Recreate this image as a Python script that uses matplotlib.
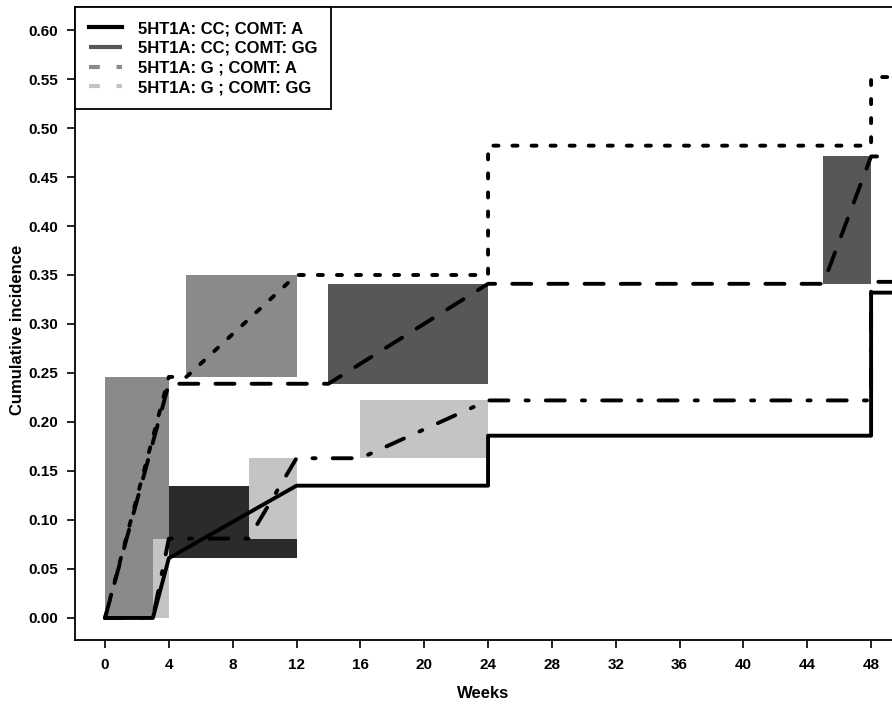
import matplotlib
matplotlib.use("Agg")
import matplotlib.pyplot as plt
from matplotlib.lines import Line2D

plt.rcParams['font.family'] = ['Liberation Sans', 'DejaVu Sans']
plt.rcParams['font.weight'] = 'bold'

# ---- data ----
weeks_ticks = [0, 4, 8, 12, 16, 20, 24, 28, 32, 36, 40, 44, 48]
y_ticks = [0.00, 0.05, 0.10, 0.15, 0.20, 0.25, 0.30, 0.35, 0.40, 0.45, 0.50, 0.55, 0.60]

labels = ["5HT1A: CC; COMT: A", "5HT1A: CC; COMT: GG",
          "5HT1A: G ; COMT: A", "5HT1A: G ; COMT: GG"]

# series: CC; COMT: A (solid)
ccA_x = [0, 3, 4, 12, 24, 24, 48, 48, 50]
ccA_y = [0, 0, 0.061, 0.135, 0.135, 0.186, 0.186, 0.332, 0.332]
# series: CC; COMT: GG (long dash)
ccGG_x = [0, 4, 14, 24, 45, 48, 50]
ccGG_y = [0, 0.239, 0.239, 0.341, 0.341, 0.471, 0.471]
# series: G; COMT: A (dotted)
gA_x = [0, 4, 5.1, 12, 24, 24, 48, 48, 50]
gA_y = [0, 0.246, 0.246, 0.350, 0.350, 0.482, 0.482, 0.552, 0.552]
# series: G; COMT: GG (dot-dash)
gGG_x = [0, 3, 4, 9, 12, 16, 24, 48, 48, 50]
gGG_y = [0, 0, 0.081, 0.081, 0.163, 0.163, 0.222, 0.222, 0.343, 0.343]

# shaded boxes (x start, x end, y low, y high, group index)
box_x0 = [0, 3, 4, 9, 5.1, 14, 16, 45]
box_x1 = [4, 4, 12, 12, 12, 24, 24, 48]
box_y0 = [0, 0, 0.061, 0.081, 0.246, 0.239, 0.163, 0.341]
box_y1 = [0.246, 0.081, 0.135, 0.163, 0.350, 0.341, 0.222, 0.471]
box_grp = [2, 3, 0, 3, 2, 1, 3, 1]

group_colors = ["#2b2b2b", "#575757", "#8a8a8a", "#c4c4c4"]

# ---- figure ----
W, H = 892, 704
fig = plt.figure(figsize=(W / 100, H / 100), dpi=100)
ax = fig.add_axes([75 / W, (H - 640) / H, 1 - 75 / W, (640 - 7) / H])

for x0, x1, y0, y1, g in zip(box_x0, box_x1, box_y0, box_y1, box_grp):
    ax.bar(x0, y1 - y0, width=x1 - x0, bottom=y0, align='edge',
           color=group_colors[g], edgecolor='none', linewidth=0, zorder=1)

lw = 2.8
styles = [
    (ccA_x, ccA_y, '-'),
    (ccGG_x, ccGG_y, (0, (4.9, 4.4))),
    (gA_x, gA_y, (0, (1.3, 3.6))),
    (gGG_x, gGG_y, (0, (4.9, 4.4, 0.8, 4.4))),
]
for xs, ys, ls in styles:
    ax.plot(xs, ys, color='black', lw=lw, linestyle=ls,
            dash_capstyle='round', solid_capstyle='round',
            solid_joinstyle='round', dash_joinstyle='round', zorder=3)

ax.set_xlim(-1.88, 49.31)
ax.set_ylim(-0.0225, 0.6235)
ax.set_xticks(weeks_ticks)
ax.set_xticklabels([str(w) for w in weeks_ticks])
ax.set_yticks(y_ticks)
ax.set_yticklabels([f"{v:.2f}" for v in y_ticks])
ax.tick_params(axis='both', direction='out', length=6, width=1.2,
               labelsize=11, color='black')
ax.tick_params(axis='x', pad=7)
ax.tick_params(axis='y', pad=6)
for sp in ['left', 'bottom', 'top']:
    ax.spines[sp].set_linewidth(1.3)
ax.spines['right'].set_visible(False)

ax.set_xlabel("Weeks", fontsize=12, fontweight='bold')
ax.set_ylabel("Cumulative incidence", fontsize=12, fontweight='bold')
ax.xaxis.set_label_coords(0.5, -0.072)
ax.yaxis.set_label_coords(-0.061, 0.49)

handles = [
    Line2D([], [], color='black', lw=3, linestyle='-'),
    Line2D([], [], color=group_colors[1], lw=3, linestyle=(0, (8, 10))),
    Line2D([], [], color=group_colors[2], lw=3, linestyle=(0, (2.6, 4.0))),
    Line2D([], [], color=group_colors[3], lw=3, linestyle=(0, (2.6, 4.0, 4.4, 3))),
]
leg = ax.legend(handles, labels, loc='upper left', bbox_to_anchor=(0, 1),
                borderaxespad=0, fancybox=False, framealpha=1,
                edgecolor='black', handlelength=2.0,
                handletextpad=0.9, labelspacing=0.28, borderpad=0.85,
                prop={'weight': 'bold', 'size': 12})
leg.get_frame().set_linewidth(1.3)

fig.savefig("out.png", dpi=100)
